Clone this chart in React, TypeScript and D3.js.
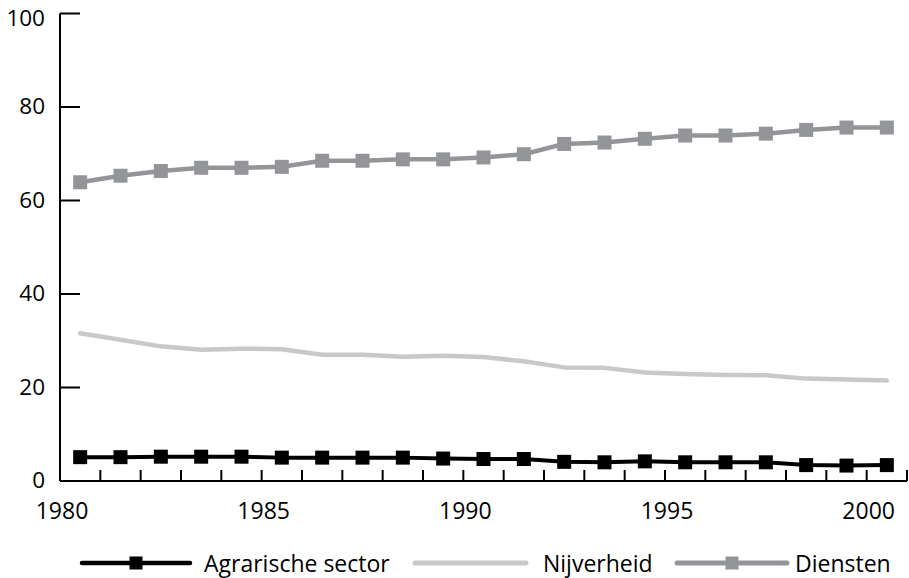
import React from "react";
import * as d3 from "d3";

const years = d3.range(1980, 2001);
const agrarische = [5.1, 5.1, 5.2, 5.2, 5.2, 5.0, 5.0, 5.0, 5.0, 4.8, 4.7, 4.7, 4.1, 4.0, 4.2, 4.0, 4.0, 4.0, 3.4, 3.3, 3.4];
const nijverheid = [31.6, 30.2, 28.8, 28.1, 28.3, 28.2, 27.0, 27.0, 26.6, 26.8, 26.5, 25.6, 24.3, 24.2, 23.2, 22.9, 22.7, 22.6, 21.9, 21.7, 21.5];
const diensten = [63.9, 65.3, 66.3, 67.0, 67.0, 67.2, 68.5, 68.5, 68.8, 68.8, 69.2, 69.9, 72.1, 72.4, 73.2, 73.9, 73.9, 74.3, 75.1, 75.6, 75.6];
const yTicks = [0, 20, 40, 60, 80, 100];
const xLabels = [1980, 1985, 1990, 1995, 2000];

const W = 909;
const H = 578;
const FONT = "'Open Sans', 'Noto Sans', sans-serif";

export default function App() {
  const x0 = 60;
  const x1 = 907;
  const band = d3.scaleBand<number>().domain(years).range([x0, x1]).paddingInner(0).paddingOuter(0);
  const xEdge = d3.scaleLinear().domain([1980, 2001]).range([x0, x1]);
  const y = d3.scaleLinear().domain([0, 100]).range([481, 13.5]);
  const cx = (yr: number) => (band(yr) as number) + band.bandwidth() / 2;
  const line = d3
    .line<number>()
    .x((_, i) => cx(years[i]))
    .y((d) => y(d));

  const series = [
    { name: "Agrarische sector", values: agrarische, color: "#000000", width: 4, marker: 14, lx: 82, lx2: 190, tx: 204 },
    { name: "Nijverheid", values: nijverheid, color: "#c8c9cb", width: 4.5, marker: 0, lx: 415, lx2: 526, tx: 543 },
    { name: "Diensten", values: diensten, color: "#939598", width: 4.5, marker: 14, lx: 677, lx2: 787, tx: 795 },
  ];

  const legendY = 563;

  return (
    <svg width={W} height={H} style={{ position: "absolute", left: 0, top: 0, background: "#fff" }}>
      {/* y axis */}
      <line x1={x0} x2={x0} y1={y(100)} y2={y(0)} stroke="#000" strokeWidth={2} />
      {yTicks.map((t) => (
        <g key={t}>
          <line x1={x0} x2={x0 + 20} y1={y(t)} y2={y(t)} stroke="#000" strokeWidth={2} />
          <text x={45} y={t === 100 ? 26 : y(t) + 7} textAnchor="end" fontFamily={FONT} fontSize={22.5} fill="#000">
            {t}
          </text>
        </g>
      ))}
      {/* x axis */}
      <line x1={x0} x2={x1} y1={y(0)} y2={y(0)} stroke="#000" strokeWidth={2} />
      {d3.range(1981, 2002).map((yr) => (
        <line key={yr} x1={xEdge(yr)} x2={xEdge(yr)} y1={y(0)} y2={y(0) - 11} stroke="#000" strokeWidth={2} />
      ))}
      {xLabels.map((yr) => (
        <text key={yr} x={xEdge(yr) + 2} y={510} textAnchor="middle" dominantBaseline="central" fontFamily={FONT} fontSize={23} fill="#000">
          {yr}
        </text>
      ))}
      {/* series */}
      {series.map((s) => (
        <g key={s.name}>
          <path d={line(s.values) as string} fill="none" stroke={s.color} strokeWidth={s.width} strokeLinejoin="round" strokeLinecap="round" />
          {s.marker > 0 &&
            s.values.map((v, i) => (
              <rect key={i} x={cx(years[i]) - s.marker / 2} y={y(v) - s.marker / 2} width={s.marker} height={s.marker} fill={s.color} />
            ))}
        </g>
      ))}
      {/* legend */}
      {series.map((s) => (
        <g key={"lg" + s.name}>
          <line x1={s.lx} x2={s.lx2} y1={legendY} y2={legendY} stroke={s.color} strokeWidth={s.width + 0.5} strokeLinecap="round" />
          {s.marker > 0 && (
            <rect x={(s.lx + s.lx2) / 2 - 6.5} y={legendY - 6.5} width={13} height={13} fill={s.color} />
          )}
          <text x={s.tx} y={legendY} dominantBaseline="central" fontFamily={FONT} fontSize={23} fill="#000">
            {s.name}
          </text>
        </g>
      ))}
    </svg>
  );
}
